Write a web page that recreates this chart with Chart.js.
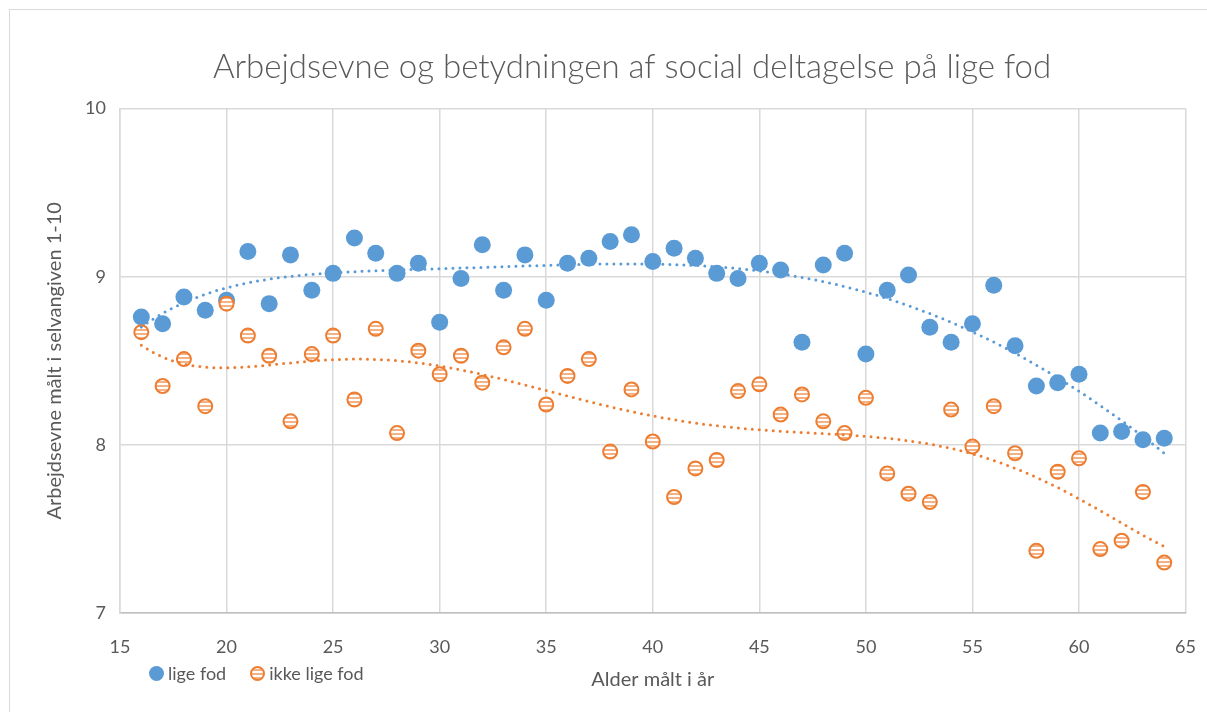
<!DOCTYPE html>
<html>
<head>
<meta charset="utf-8">
<script src="https://cdn.jsdelivr.net/npm/chart.js@4.4.1/dist/chart.umd.min.js"></script>
<style>
    html, body { margin: 0; padding: 0; background: #fff; }
    #wrap { position: relative; width: 1207px; height: 712px; overflow: hidden; }
    #frame { position: absolute; left: 9px; top: 9px; width: 1300px; height: 800px; border: 1px solid #d9d9d9; pointer-events: none; }
    #legend { position: absolute; left: 149px; top: 662px; font-family: Lato, sans-serif; font-size: 18px; color: #595959; display: flex; align-items: center; }
    .item { display: flex; align-items: center; margin-right: 24px; }
    .dot { width: 15px; height: 15px; border-radius: 50%; margin-right: 4px; box-sizing: border-box; }
    .blue { background: #5b9bd5; }
    .orange { border: 2px solid #ed7d31; background: repeating-linear-gradient(#fff 0 1px, #f4b183 1px 3px, #fff 3px 4px); }
</style>
</head>
<body>
<div id="wrap">
    <canvas id="chart" width="1207" height="712"></canvas>
    <div id="frame"></div>
    <div id="legend">
        <div class="item"><span class="dot blue"></span>lige fod</div>
        <div class="item"><span class="dot orange"></span>ikke lige fod</div>
    </div>
</div>
<script>
const ages = [16, 17, 18, 19, 20, 21, 22, 23, 24, 25, 26, 27, 28, 29, 30, 31, 32, 33, 34, 35, 36, 37, 38, 39, 40,
    41, 42, 43, 44, 45, 46, 47, 48, 49, 50, 51, 52, 53, 54, 55, 56, 57, 58, 59, 60, 61, 62, 63, 64];

const ligeFod = [8.76, 8.72, 8.88, 8.80, 8.86, 9.15, 8.84, 9.13, 8.92, 9.02, 9.23, 9.14, 9.02, 9.08, 8.73,
    8.99, 9.19, 8.92, 9.13, 8.86, 9.08, 9.11, 9.21, 9.25, 9.09, 9.17, 9.11, 9.02, 8.99, 9.08,
    9.04, 8.61, 9.07, 9.14, 8.54, 8.92, 9.01, 8.70, 8.61, 8.72, 8.95, 8.59, 8.35, 8.37, 8.42,
    8.07, 8.08, 8.03, 8.04];

const ikkeLigeFod = [8.67, 8.35, 8.51, 8.23, 8.84, 8.65, 8.53, 8.14, 8.54, 8.65, 8.27, 8.69, 8.07, 8.56, 8.42,
    8.53, 8.37, 8.58, 8.69, 8.24, 8.41, 8.51, 7.96, 8.33, 8.02, 7.69, 7.86, 7.91, 8.32, 8.36,
    8.18, 8.30, 8.14, 8.07, 8.28, 7.83, 7.71, 7.66, 8.21, 7.99, 8.23, 7.95, 7.37, 7.84, 7.92,
    7.38, 7.43, 7.72, 7.30];

const xTicks = [15, 20, 25, 30, 35, 40, 45, 50, 55, 60, 65];
const yTicks = [7, 8, 9, 10];

const BLUE = "#5b9bd5";
const ORANGE = "#ed7d31";
const TEXT = "#595959";

// polynomial trendline (order 6) fitted to the series, like Excel does
function polyFit(xs, ys, deg) {
    const t = xs.map((x) => (x - 40) / 24);
    const n = deg + 1;
    const A = Array.from({ length: n }, () => new Array(n + 1).fill(0));
    for (let k = 0; k < t.length; k++) {
        for (let i = 0; i < n; i++) {
            for (let j = 0; j < n; j++) A[i][j] += Math.pow(t[k], i + j);
            A[i][n] += ys[k] * Math.pow(t[k], i);
        }
    }
    for (let i = 0; i < n; i++) {
        let p = i;
        for (let r = i + 1; r < n; r++) if (Math.abs(A[r][i]) > Math.abs(A[p][i])) p = r;
        [A[i], A[p]] = [A[p], A[i]];
        for (let r = 0; r < n; r++) {
            if (r === i) continue;
            const f = A[r][i] / A[i][i];
            for (let c = i; c <= n; c++) A[r][c] -= f * A[i][c];
        }
    }
    const coef = A.map((row, i) => row[n] / row[i]);
    return (x) => {
        const tt = (x - 40) / 24;
        return coef.reduce((s, c, i) => s + c * Math.pow(tt, i), 0);
    };
}

function trend(ys) {
    const f = polyFit(ages, ys, 6);
    const pts = [];
    for (let x = ages[0]; x <= ages[ages.length - 1] + 1e-9; x += 0.5) pts.push({ x: x, y: f(x) });
    return pts;
}

function stripes() {
    const c = document.createElement("canvas");
    c.width = 4;
    c.height = 4;
    const g = c.getContext("2d");
    g.fillStyle = "#ffffff";
    g.fillRect(0, 0, 4, 4);
    g.fillStyle = "#f4b183";
    g.fillRect(0, 1, 4, 2);
    return g.createPattern(c, "repeat");
}

const toPoints = (ys) => ages.map((x, i) => ({ x: x, y: ys[i] }));

const shiftTitle = {
    id: "shiftTitle",
    afterLayout(chart) {
        if (chart.titleBlock) {
            chart.titleBlock.left += 39;
            chart.titleBlock.right += 39;
        }
    },
};

new Chart(document.getElementById("chart"), {
    type: "scatter",
    data: {
        datasets: [
            {
                label: "lige fod",
                data: toPoints(ligeFod),
                backgroundColor: BLUE,
                borderWidth: 0,
                pointRadius: 8.5,
                order: 2,
            },
            {
                label: "ikke lige fod",
                data: toPoints(ikkeLigeFod),
                backgroundColor: stripes(),
                borderColor: ORANGE,
                borderWidth: 2,
                pointRadius: 7,
                order: 1,
            },
            {
                label: "trend lige fod",
                data: trend(ligeFod),
                showLine: true,
                borderColor: BLUE,
                borderWidth: 3,
                borderDash: [0, 7],
                borderCapStyle: "round",
                pointRadius: 0,
                order: 0,
            },
            {
                label: "trend ikke lige fod",
                data: trend(ikkeLigeFod),
                showLine: true,
                borderColor: ORANGE,
                borderWidth: 3,
                borderDash: [0, 7],
                borderCapStyle: "round",
                pointRadius: 0,
                order: 0,
            },
        ],
    },
    options: {
        responsive: false,
        animation: false,
        layout: { padding: { left: 0, right: 21, top: 0, bottom: 0 } },
        plugins: {
            legend: { display: false },
            tooltip: { enabled: false },
            title: {
                display: true,
                text: "Arbejdsevne og betydningen af social deltagelse på lige fod",
                color: TEXT,
                font: { family: "Lato", size: 33, weight: "300" },
                padding: { top: 48, bottom: 21 },
            },
        },
        scales: {
            x: {
                type: "linear",
                min: 15,
                max: 65,
                afterBuildTicks: (scale) => { scale.ticks = xTicks.map((v) => ({ value: v })); },
                afterFit: (scale) => { scale.height = 99; },
                grid: { color: "#d9d9d9", lineWidth: 1.5, drawTicks: true, tickLength: 12, tickColor: "rgba(0,0,0,0)" },
                border: { color: "#bfbfbf", width: 1.5 },
                ticks: { color: TEXT, font: { family: "Lato", size: 18 }, padding: 11 },
                title: {
                    display: true,
                    text: "Alder målt i år",
                    color: TEXT,
                    font: { family: "Lato", size: 20 },
                    padding: { top: 0, bottom: 20 },
                },
            },
            y: {
                min: 7,
                max: 10,
                afterBuildTicks: (scale) => { scale.ticks = yTicks.map((v) => ({ value: v })); },
                afterFit: (scale) => { scale.width = 120; },
                grid: { color: "#d9d9d9", lineWidth: 1.5, drawTicks: false },
                border: { color: "#d9d9d9", width: 1.5 },
                ticks: { color: TEXT, font: { family: "Lato", size: 18 }, padding: 14 },
                title: {
                    display: true,
                    text: "Arbejdsevne målt i selvangiven 1-10",
                    color: TEXT,
                    font: { family: "Lato", size: 20 },
                    padding: { top: 43, bottom: 0 },
                },
            },
        },
    },
    plugins: [shiftTitle],
});
</script>
</body>
</html>
